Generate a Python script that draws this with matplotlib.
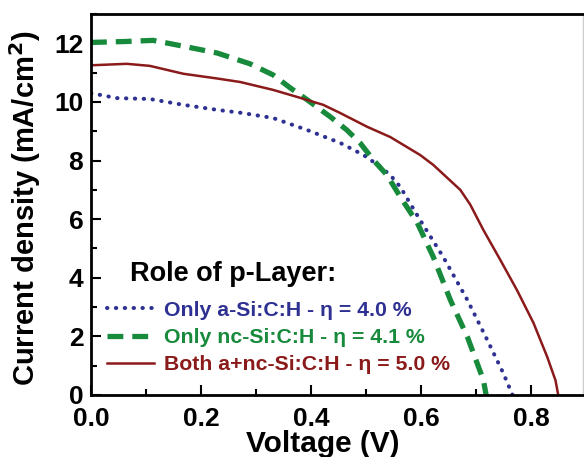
import numpy as np
import matplotlib
matplotlib.use("Agg")
import matplotlib.pyplot as plt
from matplotlib.ticker import MultipleLocator

# J-V curves
v_a = [0.0, 0.047, 0.107, 0.168, 0.229, 0.276, 0.331, 0.393, 0.453, 0.495, 0.525,
       0.544, 0.562, 0.598, 0.64, 0.684, 0.72, 0.749, 0.766]
j_a = [10.3, 10.13, 10.1, 9.9, 9.73, 9.62, 9.45, 9.04, 8.6, 8.19, 7.8,
       7.5, 7.1, 5.97, 4.71, 3.24, 1.88, 0.75, 0.0]

v_nc = [0.0, 0.06, 0.113, 0.168, 0.229, 0.289, 0.331, 0.362, 0.393, 0.435, 0.465,
        0.489, 0.513, 0.538, 0.562, 0.593, 0.622, 0.653, 0.684, 0.713, 0.718]
j_nc = [12.03, 12.06, 12.1, 11.9, 11.67, 11.3, 10.92, 10.48, 10.07, 9.49, 9.04,
        8.6, 8.02, 7.5, 6.76, 5.87, 4.71, 3.24, 1.98, 0.51, 0.0]

v_both = [0.0, 0.065, 0.107, 0.168, 0.229, 0.271, 0.331, 0.38, 0.422, 0.453, 0.502,
          0.544, 0.598, 0.622, 0.671, 0.689, 0.713, 0.744, 0.774, 0.804, 0.829,
          0.844, 0.849]
j_both = [11.25, 11.3, 11.23, 10.96, 10.8, 10.68, 10.41, 10.14, 9.9, 9.62, 9.15,
          8.8, 8.19, 7.85, 7.0, 6.5, 5.63, 4.6, 3.58, 2.46, 1.3,
          0.5, 0.0]

labels = ["Only a-Si:C:H - \u03b7 = 4.0 %",
          "Only nc-Si:C:H - \u03b7 = 4.1 %",
          "Both a+nc-Si:C:H - \u03b7 = 5.0 %"]
colors = ["#2e3192", "#178a3c", "#8b1a1a"]

plt.rcParams['font.family'] = ['Liberation Sans', 'DejaVu Sans']
plt.rcParams['font.weight'] = 'bold'

fig = plt.figure(figsize=(5.84, 4.57), dpi=100)
ax = fig.add_axes([91/584, 62/457, 492/584, 381/457])

ax.plot(v_a, j_a, color=colors[0], linestyle=(0, (0.1, 2.1)), linewidth=2.9,
        dash_capstyle='round', label=labels[0])
ax.plot(v_nc, j_nc, color=colors[1], linestyle=(0, (3, 1.7)), linewidth=3.8,
        label=labels[1])
ax.plot(v_both, j_both, color=colors[2], linestyle='-', linewidth=1.8,
        label=labels[2])

ax.set_xlim(0, 0.894)
ax.set_ylim(0, 13)
ax.xaxis.set_major_locator(MultipleLocator(0.2))
ax.xaxis.set_minor_locator(MultipleLocator(0.1))
ax.yaxis.set_major_locator(MultipleLocator(2))
ax.yaxis.set_minor_locator(MultipleLocator(1))
ax.xaxis.set_major_formatter(plt.FormatStrFormatter('%.1f'))
ax.tick_params(which='both', direction='in', top=False, right=False,
               labelsize=19, width=1.5)
ax.tick_params(which='major', length=7)
ax.tick_params(which='minor', length=4)
ax.tick_params(axis='x', pad=8.5)
ax.tick_params(axis='y', pad=5.5)
for s in ax.spines.values():
    s.set_linewidth(2)
ax.spines['right'].set_color('#cccccc')
ax.spines['right'].set_linewidth(1)

ax.set_xlabel("Voltage (V)", fontsize=21.5, fontweight='bold')
ax.set_ylabel("Current density (mA/cm$^\\mathbf{2}$)", fontsize=21,
              fontweight='bold')
ax.xaxis.set_label_coords(0.472, -0.093)
ax.yaxis.set_label_coords(-0.098, 0.49)

ax.text(0.079, 0.318, "Role of p-Layer:", transform=ax.transAxes,
        fontsize=19.5, fontweight='bold', ha='left', va='center')

leg = ax.legend(loc='upper left', bbox_to_anchor=(0.033, 0.247), frameon=False,
                fontsize=15.3, handlelength=2.2, handletextpad=0.45,
                labelspacing=0.38, borderaxespad=0, borderpad=0)
for t, c in zip(leg.get_texts(), colors):
    t.set_color(c)
    t.set_fontweight('bold')

fig.savefig("out.png", dpi=100)
